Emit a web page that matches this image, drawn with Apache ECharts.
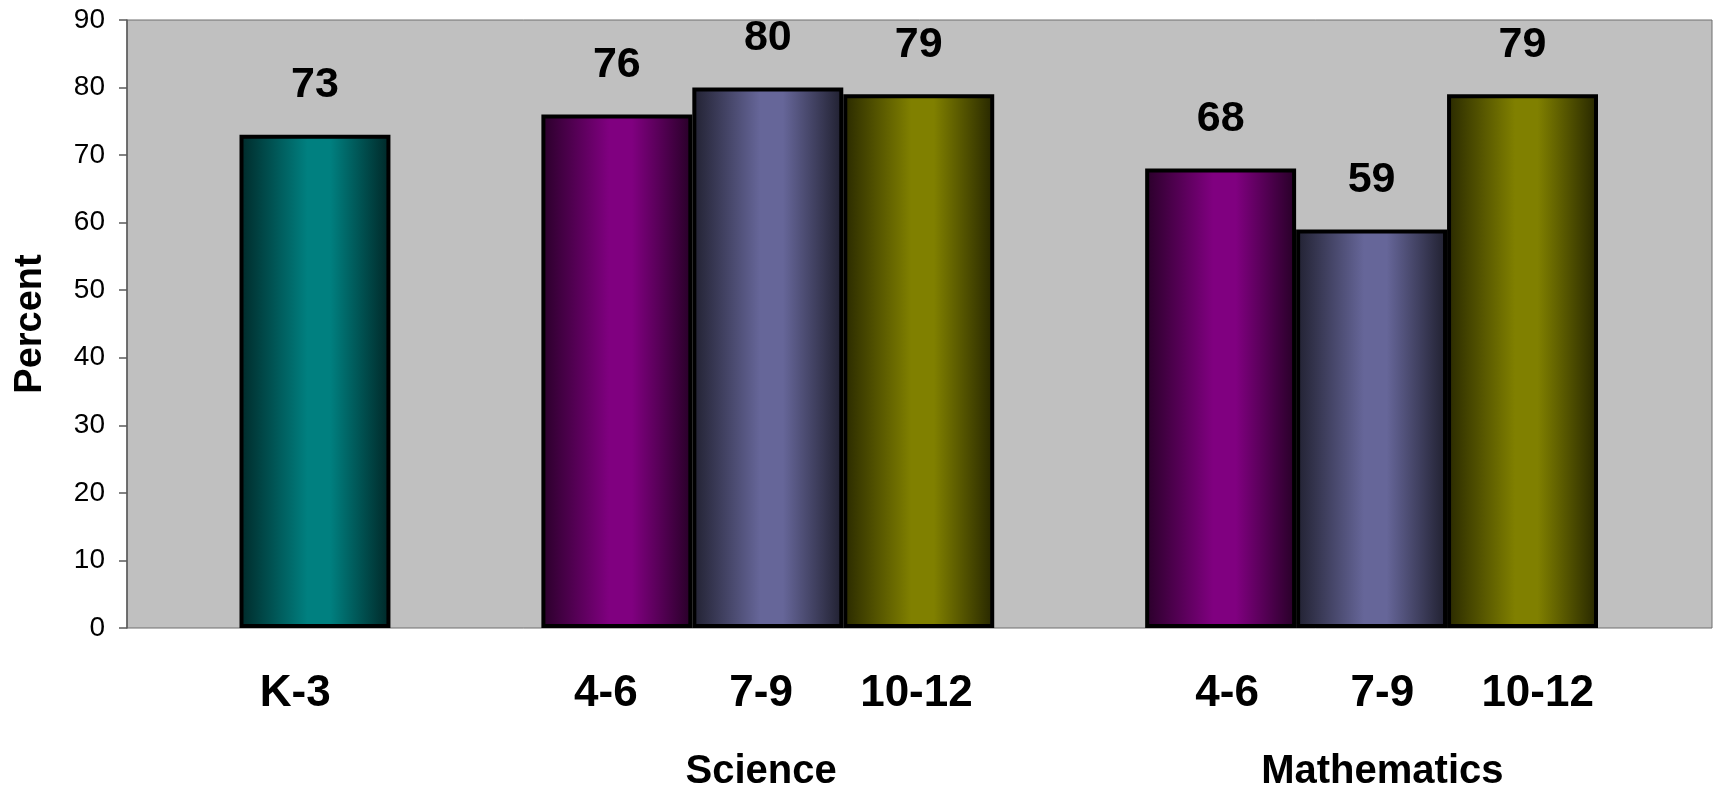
<!DOCTYPE html>
<html>
<head>
<meta charset="utf-8">
<script src="https://cdn.jsdelivr.net/npm/echarts@6/dist/echarts.min.js"></script>
<style>
  html, body { margin: 0; padding: 0; background: #ffffff; }
  #chart { width: 1715px; height: 792px; }
</style>
</head>
<body>
<div id="chart"></div>
<script>
// Grade bands along the axis; empty slots separate the subject groups
const slotLabels = ['K-3', '', '4-6', '7-9', '10-12', '', '4-6', '7-9', '10-12'];
const subjectLabels = ['', '', '', 'Science', '', '', '', 'Mathematics', ''];
const slotBand = ['K-3', null, '4-6', '7-9', '10-12', null, '4-6', '7-9', '10-12'];

// Percent values
const k3Values = [73];
const scienceValues = [76, 80, 79];
const mathValues = [68, 59, 79];

const yTicks = { min: 0, max: 90, interval: 10 };

const bandColors = {
  'K-3': [0, 128, 128],
  '4-6': [128, 0, 128],
  '7-9': [102, 102, 153],
  '10-12': [128, 128, 0]
};

function shade(rgb, f) {
  return 'rgb(' + rgb.map(c => Math.round(c * f)).join(',') + ')';
}
function cylinder(rgb) {
  return {
    type: 'linear', x: 0, y: 0, x2: 1, y2: 0,
    colorStops: [
      { offset: 0, color: shade(rgb, 0.32) },
      { offset: 0.45, color: shade(rgb, 1) },
      { offset: 0.6, color: shade(rgb, 1) },
      { offset: 1, color: shade(rgb, 0.3) }
    ]
  };
}

// Lay the values into their slots
const slotValues = [].concat(k3Values, [null], scienceValues, [null], mathValues);
const barData = slotValues.map((v, i) => {
  if (v === null) return null;
  return { value: v, itemStyle: { color: cylinder(bandColors[slotBand[i]]) } };
});

const boldFont = '"Liberation Sans", Arial, sans-serif';

const chart = echarts.init(document.getElementById('chart'), null, { renderer: 'canvas' });
chart.setOption({
  animation: false,
  backgroundColor: '#ffffff',
  grid: [
    // plot frame with the value axis
    { left: 127, right: 3, top: 20, bottom: 164, show: true, backgroundColor: '#c0c0c0',
      borderColor: '#6e6e6e', borderWidth: 1 },
    // bars
    { left: 239.5, right: 117, top: 20, bottom: 164 },
    // category captions, spaced a little wider than the bars
    { left: 217.6, right: 99.7, top: 20, bottom: 164 }
  ],
  xAxis: [
    { gridIndex: 0, type: 'category', data: [''], show: false },
    { gridIndex: 1, type: 'category', data: slotLabels, show: false },
    {
      gridIndex: 2, type: 'category', data: slotLabels, position: 'bottom',
      axisLine: { show: false }, axisTick: { show: false },
      axisLabel: { interval: 0, margin: 49, color: '#000', fontFamily: boldFont,
        fontWeight: 'bold', fontSize: 44, lineHeight: 44 }
    },
    {
      gridIndex: 2, type: 'category', data: subjectLabels, position: 'bottom',
      axisLine: { show: false }, axisTick: { show: false },
      axisLabel: { interval: 0, margin: 129, color: '#000', fontFamily: boldFont,
        fontWeight: 'bold', fontSize: 40, lineHeight: 40 }
    }
  ],
  yAxis: [
    {
      gridIndex: 0, type: 'value', min: yTicks.min, max: yTicks.max, interval: yTicks.interval,
      name: 'Percent', nameLocation: 'middle', nameRotate: 90, nameGap: 77,
      nameTextStyle: { color: '#000', fontFamily: boldFont, fontWeight: 'bold', fontSize: 38 },
      axisLine: { show: true, lineStyle: { color: '#5a5a5a', width: 1.5 } },
      axisTick: { show: true, length: 8, lineStyle: { color: '#5a5a5a', width: 1.5 } },
      axisLabel: { margin: 22, color: '#000', fontFamily: '"Liberation Sans", Arial, sans-serif', fontSize: 28 },
      splitLine: { show: false }
    },
    { gridIndex: 1, type: 'value', min: yTicks.min, max: yTicks.max, interval: yTicks.interval, show: false },
    { gridIndex: 2, type: 'value', min: yTicks.min, max: yTicks.max, interval: yTicks.interval, show: false }
  ],
  series: [
    {
      type: 'bar', xAxisIndex: 1, yAxisIndex: 1, data: barData, barWidth: '100%',
      itemStyle: { borderColor: '#000', borderWidth: 4 },
      label: { show: true, position: 'top', distance: 28, color: '#000',
        fontFamily: boldFont, fontWeight: 'bold', fontSize: 43 }
    }
  ]
});
</script>
</body>
</html>
